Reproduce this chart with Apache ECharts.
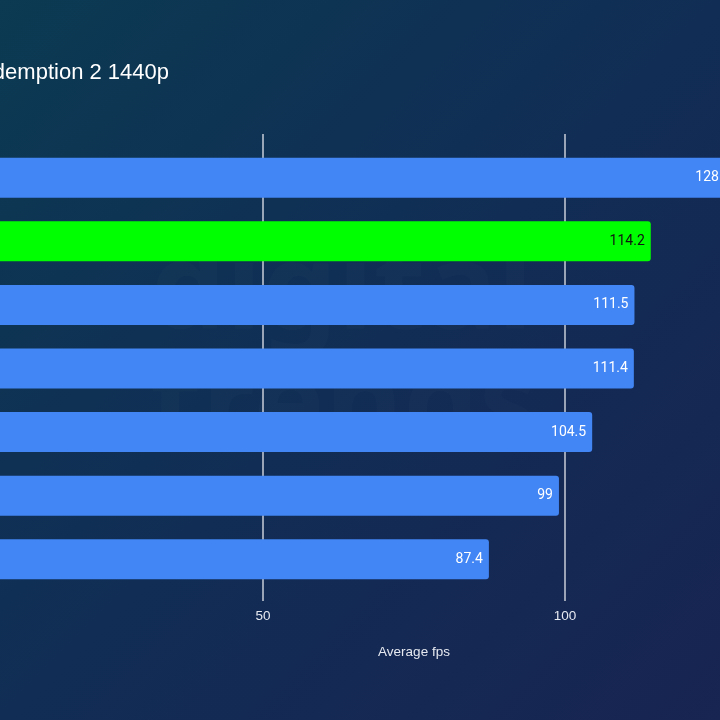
<!DOCTYPE html>
<html>
<head>
<meta charset="utf-8">
<style>
  html, body { margin: 0; padding: 0; }
  #main { width: 720px; height: 720px; }
</style>
<script src="https://cdn.jsdelivr.net/npm/echarts@6/dist/echarts.min.js"></script>
</head>
<body>
<div id="main"></div>
<script>
// data (the card names sit off-screen in the reference)
const cards = ['Card 1', 'Card 2', 'Card 3', 'Card 4', 'Card 5', 'Card 6', 'Card 7'];
const fps = [128.4, 114.2, 111.5, 111.4, 104.5, 99, 87.4];
const highlight = [false, true, false, false, false, false, false];
const xTicks = [0, 50, 100, 150];

const blue = '#4285f4';
const green = '#00ff00';

const myChart = echarts.init(document.getElementById('main'));

const option = {
    animation: false,
    backgroundColor: {
        type: 'linear', x: 0, y: 0, x2: 1, y2: 1,
        colorStops: [
            { offset: 0, color: '#0b3a52' },
            { offset: 0.5, color: '#112d55' },
            { offset: 1, color: '#182452' }
        ]
    },
    title: {
        text: 'Red Dead Redemption 2 1440p',
        right: 551,
        top: 62,
        padding: 0,
        textStyle: {
            color: '#ffffff',
            fontSize: 22,
            fontWeight: 'normal',
            fontFamily: 'Liberation Sans, Arial, sans-serif'
        }
    },
    graphic: [{
        type: 'text',
        left: 150,
        top: 235,
        z: 0,
        style: {
            text: 'digital\ntrends',
            fontSize: 120,
            fontWeight: 'bold',
            lineHeight: 115,
            fontFamily: 'Noto Sans, sans-serif',
            fill: 'rgba(255,255,255,0.015)'
        }
    }],
    grid: [
        { left: -39, width: 906, top: 146, height: 445, outerBoundsMode: 'none', containLabel: false },
        { left: -39, width: 906, top: 134, height: 464, outerBoundsMode: 'none', containLabel: false }
    ],
    xAxis: [{
        gridIndex: 0,
        type: 'value',
        min: xTicks[0],
        max: xTicks[xTicks.length - 1],
        show: false
    }, {
        gridIndex: 1,
        type: 'value',
        min: xTicks[0],
        max: xTicks[xTicks.length - 1],
        interval: 50,
        name: 'Average fps',
        nameLocation: 'middle',
        nameGap: 47,
        nameTextStyle: {
            color: '#e6e9f0',
            fontSize: 13.5,
            fontFamily: 'Liberation Sans, Arial, sans-serif'
        },
        axisLine: { show: false },
        axisTick: {
            show: true,
            length: 3,
            lineStyle: { color: '#c9ced8', width: 1.5 }
        },
        axisLabel: {
            color: '#e6e9f0',
            fontSize: 13.5,
            margin: 11,
            fontFamily: 'Liberation Sans, Arial, sans-serif'
        },
        splitLine: {
            show: true,
            lineStyle: { color: '#c9ced8', width: 1.5 }
        }
    }],
    yAxis: [{
        gridIndex: 0,
        type: 'category',
        data: cards,
        inverse: true,
        show: false
    }, {
        gridIndex: 1,
        type: 'value',
        show: false
    }],
    series: [{
        type: 'bar',
        xAxisIndex: 0,
        yAxisIndex: 0,
        barWidth: 40,
        z: 3,
        data: fps.map((v, i) => ({
            value: v,
            itemStyle: {
                color: highlight[i] ? green : blue,
                borderRadius: 3
            },
            label: {
                color: highlight[i] ? '#111111' : '#ffffff'
            }
        })),
        label: {
            show: true,
            position: 'insideRight',
            distance: 6,
            fontSize: 14,
            fontFamily: 'Roboto, sans-serif'
        }
    }]
};

myChart.setOption(option);
</script>
</body>
</html>
